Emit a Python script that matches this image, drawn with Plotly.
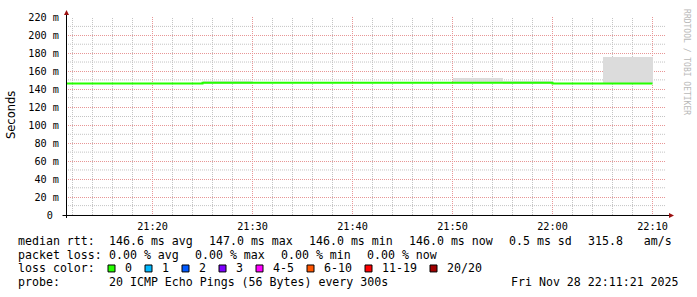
import math
import plotly.graph_objects as go
import pandas as pd

# ---------------- data ----------------
day = "2025-11-28 "
bucket_start = ["21:10", "21:15", "21:20", "21:25", "21:30", "21:35",
                "21:40", "21:45", "21:50", "21:55", "22:00", "22:05"]
median_ms = [146.0, 146.0, 146.0, 147.0, 147.0, 147.0,
             147.0, 147.0, 147.0, 147.0, 146.0, 146.0]
smoke_low_ms = [146.0, 146.0, 146.0, 146.5, 147.0, 147.0,
                147.0, 147.0, 146.5, 146.5, 146.0, 145.5]
smoke_high_ms = [146.0, 146.0, 146.0, 148.5, 147.0, 147.0,
                 147.0, 147.0, 151.8, 148.6, 146.0, 175.2]
step_seconds = 300
x_start = "21:11:21"
x_end = "22:11:21"

y_tickvals = [0, 20, 40, 60, 80, 100, 120, 140, 160, 180, 200, 220]
y_ticktext = ["0\u00a0"] + [f"{v} m" for v in y_tickvals[1:]]
y_minor_vals = [10, 30, 50, 70, 90, 110, 130, 150, 170, 190, 210]

rtt_stats = [("avg", 146.6), ("max", 147.0), ("min", 146.0), ("now", 146.0)]
rtt_sd = 0.5
rtt_ams = 315.8
loss_stats = [("avg", 0.00), ("max", 0.00), ("min", 0.00), ("now", 0.00)]
loss_labels = ["0", "1", "2", "3", "4-5", "6-10", "11-19", "20/20"]
loss_colors = ["#26ff00", "#00b8ff", "#0059ff", "#7e00ff",
               "#ff00ff", "#ff5500", "#ff0000", "#a10000"]
probe_text = "20 ICMP Echo Pings (56 Bytes) every 300s"
stamp_text = "Fri Nov 28 22:11:21 2025"
watermark = "RRDTOOL / TOBI OETIKER"

# ---------------- geometry ----------------
W, H = 697, 297
L, R, T, B = 66, 31, 15, 82
PW, PH = W - L - R, H - T - B
MONO = "DejaVu Sans Mono"
CW = 7.0      # char width of legend font
GAP = 16      # gap between legend fields
COL1 = 107.3  # first field column
Y_MAX = 220


def px(xp):
    return (xp - L) / PW


def py(yp):
    return (H - B - yp) / PH


def nb(s):
    return s.replace(" ", "\u00a0")


starts = pd.to_datetime([day + s for s in bucket_start])
step = pd.Timedelta(seconds=step_seconds)
centers = starts + step / 2
line_x = list(starts) + [starts[-1] + step]
line_y = median_ms + [median_ms[-1]]

x_minor_vals = [t for t in pd.date_range(day + "21:12:00", day + "22:10:00", freq="2min")
                if t.minute % 10 != 0]

fig = go.Figure()
fig.add_trace(go.Bar(
    x=centers, y=[h - l for h, l in zip(smoke_high_ms, smoke_low_ms)],
    base=smoke_low_ms, width=step_seconds * 1000,
    marker=dict(color="#dcdcdc", line=dict(width=0)),
    hoverinfo="skip", showlegend=False))
fig.add_trace(go.Scatter(
    x=line_x, y=line_y, mode="lines", line=dict(color="#26ff00", width=2, shape="hv"),
    showlegend=False))

major_grid = "#e89696"
minor_grid = "#c4c4c4"

fig.update_layout(
    width=W, height=H, margin=dict(l=L, r=R, t=T, b=B, pad=0),
    paper_bgcolor="white", plot_bgcolor="white", showlegend=False,
    font=dict(family=MONO, size=10, color="black"),
    xaxis=dict(
        type="date", range=[day + x_start, day + x_end],
        tick0=day + "21:00:00", dtick=600000, tickformat="%H:%M",
        showgrid=True, gridcolor=major_grid, griddash="1px,1px", gridwidth=1,
        ticks="", ticklabelstandoff=4, zeroline=False, showline=False,
        tickfont=dict(family=MONO, size=10.2, color="black"), fixedrange=True),
    yaxis=dict(
        range=[0, Y_MAX], tickmode="array", tickvals=y_tickvals, ticktext=y_ticktext,
        showgrid=True, gridcolor=major_grid, griddash="1px,1px", gridwidth=1,
        ticks="", ticklabelstandoff=6, zeroline=False, showline=False,
        tickfont=dict(family=MONO, size=10.2, color="black"), fixedrange=True),
    bargap=0,
)

shapes = []
# minor grid (drawn as shapes so they never overlap the major grid)
for t in x_minor_vals:
    shapes.append(dict(type="line", xref="x", yref="paper", x0=t, x1=t, y0=0, y1=1,
                       layer="below", line=dict(color=minor_grid, width=1, dash="1px,1px")))
for v in y_minor_vals:
    ypix = math.floor(T + PH * (1 - v / Y_MAX)) + 0.5
    shapes.append(dict(type="line", xref="paper", yref="paper", x0=0, x1=1,
                       y0=py(ypix), y1=py(ypix),
                       layer="below", line=dict(color=minor_grid, width=1, dash="1px,1px")))
# axes with arrows
shapes.append(dict(type="line", xref="paper", yref="paper", x0=px(62.5), x1=px(669),
                   y0=py(215.5), y1=py(215.5), line=dict(color="black", width=1)))
shapes.append(dict(type="line", xref="paper", yref="paper", x0=px(66.5), x1=px(66.5),
                   y0=py(218), y1=py(12), line=dict(color="black", width=1)))
shapes.append(dict(type="path", xref="paper", yref="paper",
                   path=f"M {px(669)} {py(213)} L {px(674)} {py(215.5)} L {px(669)} {py(218)} Z",
                   fillcolor="#9b1010", line=dict(width=0)))
shapes.append(dict(type="path", xref="paper", yref="paper",
                   path=f"M {px(64)} {py(13)} L {px(66.5)} {py(8)} L {px(69)} {py(13)} Z",
                   fillcolor="#9b1010", line=dict(width=0)))

ann = []
legend_font = dict(family=MONO, size=11.6, color="black")


def text_at(txt, xx, yy, anchor="left"):
    ann.append(dict(text=nb(txt), x=px(xx), y=py(yy), xref="paper", yref="paper",
                    showarrow=False, xanchor=anchor, yanchor="middle", font=legend_font))


# y title
ann.append(dict(text="Seconds", x=px(11), y=py(114), xref="paper", yref="paper",
                showarrow=False, textangle=-90, xanchor="center", yanchor="middle",
                font=dict(family="DejaVu Sans", size=11.5, color="black")))
# watermark
ann.append(dict(text=nb(watermark), x=px(687), y=py(5), xref="paper", yref="paper",
                showarrow=False, textangle=90, xanchor="center", yanchor="top",
                font=dict(family=MONO, size=8, color="#b8b8b8")))

X0 = 16
rows = [
    ("median rtt:", [f"{v:.1f} ms {k}" for k, v in rtt_stats]
     + [f"{rtt_sd:.1f} ms sd", f"{rtt_ams:.1f}   am/s"], 241.5),
    ("packet loss:", [f"{v:.2f} % {k}" for k, v in loss_stats], 255.5),
    ("probe:", [probe_text], 283),
]
for label, fields, yy in rows:
    text_at(label, X0, yy)
    xx = COL1
    for f in fields:
        text_at(f, xx, yy)
        xx += len(f) * CW + GAP
text_at(stamp_text, 681, 283, anchor="right")

text_at("loss color:", X0, 269)
sx = 108
for lab, col in zip(loss_labels, loss_colors):
    shapes.append(dict(type="rect", xref="paper", yref="paper",
                       x0=px(sx), x1=px(sx + 7), y0=py(272.5), y1=py(265.5),
                       fillcolor=col, line=dict(color="black", width=1)))
    tx = sx + 15
    text_at(lab, tx, 269)
    sx = tx + len(lab) * CW + 15

fig.update_layout(shapes=shapes, annotations=ann)
fig.write_html("out.html")
